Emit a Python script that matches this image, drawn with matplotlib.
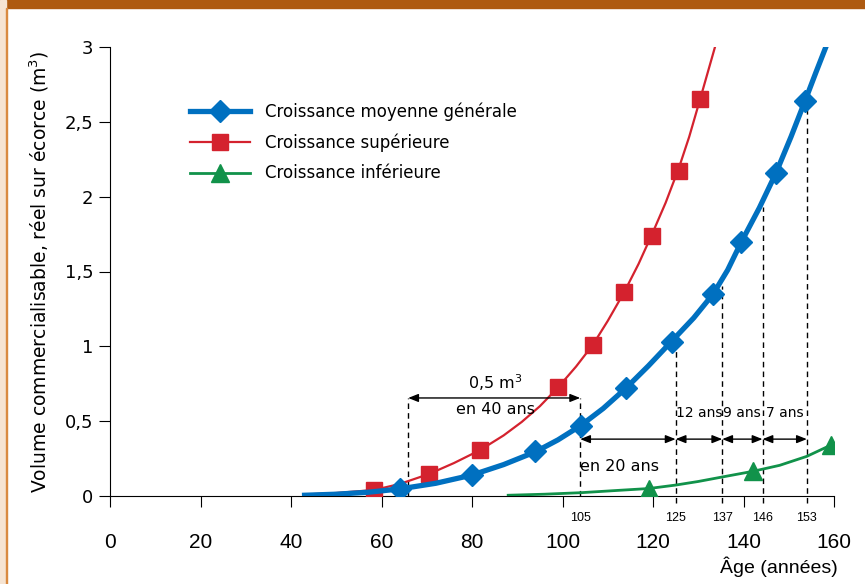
import matplotlib
matplotlib.use("Agg")
import matplotlib.pyplot as plt
from matplotlib.patches import Rectangle

# courbes (âge en années, volume en m3)
age_moy = [43, 50, 57, 64, 72, 80, 87, 94, 99, 104, 109, 114, 119, 124, 129,
           133.3, 136.5, 139.4, 143.5, 147.2, 150.5, 153.6, 156, 158.2]
vol_moy = [0.005, 0.012, 0.025, 0.047, 0.085, 0.14, 0.21, 0.295, 0.375, 0.47, 0.585,
           0.72, 0.87, 1.03, 1.19, 1.35, 1.51, 1.69, 1.925, 2.16, 2.40, 2.64, 2.83, 3.0]
mk_age_moy = [64, 80, 94, 104, 114, 124.2, 133.3, 139.4, 147.2, 153.6]
mk_vol_moy = [0.047, 0.14, 0.30, 0.47, 0.72, 1.03, 1.35, 1.70, 2.16, 2.64]

age_sup = [43, 50, 58.3, 64, 70.5, 76, 81.8, 87, 91, 95, 99, 103, 106.7, 110,
           113.6, 116.8, 119.8, 122.8, 125.7, 128, 130.4, 133.7]
vol_sup = [0.01, 0.02, 0.04, 0.08, 0.147, 0.22, 0.307, 0.405, 0.495, 0.60, 0.725,
           0.865, 1.01, 1.17, 1.36, 1.55, 1.75, 1.96, 2.19, 2.40, 2.65, 3.0]
mk_age_sup = [58.3, 70.5, 81.8, 99, 106.7, 113.6, 119.8, 125.7, 130.4]
mk_vol_sup = [0.04, 0.147, 0.307, 0.728, 1.01, 1.36, 1.74, 2.17, 2.65]

age_inf = [88, 96, 104, 112, 119.1, 125, 130, 135.3, 142.1, 148, 154, 159.3]
vol_inf = [0.005, 0.012, 0.022, 0.037, 0.05, 0.073, 0.097, 0.127, 0.165, 0.205, 0.265, 0.34]
mk_age_inf = [119.1, 142.1, 159.3]
mk_vol_inf = [0.05, 0.165, 0.34]

# repères pointillés
rep_x = [103.9, 125, 135.3, 144.2, 154]
rep_top = [0.655, 1.03, 1.40, 1.93, 2.60]
rep_lbl = ["105", "125", "137", "146", "153"]
ecarts = ["12 ans", "9 ans", "7 ans"]

bleu = "#0070c0"
rouge = "#d4222e"
vert = "#11924a"
etroit = ["Liberation Sans", "DejaVu Sans"]

fig = plt.figure(figsize=(8.65, 5.84), dpi=100)
ax = fig.add_axes([110 / 865, 88 / 584, 724 / 865, 449 / 584])

# cadre décoratif
fig.patches.append(Rectangle((0, 1 - 8 / 584), 1, 8 / 584, transform=fig.transFigure,
                             color="#ae5a10", zorder=0))
fig.patches.append(Rectangle((0, 0), 6 / 865, 1, transform=fig.transFigure,
                             color="#f6e4d2", zorder=0))
fig.patches.append(Rectangle((6 / 865, 0), 1.5 / 865, 1 - 8 / 584, transform=fig.transFigure,
                             color="#d98a40", zorder=0))

ax.plot(age_inf, vol_inf, color=vert, lw=2, zorder=3)
ax.plot(mk_age_inf, mk_vol_inf, "^", color=vert, ms=13, zorder=4)
ax.plot(age_sup, vol_sup, color=rouge, lw=1.6, zorder=3)
ax.plot(mk_age_sup, mk_vol_sup, "s", color=rouge, ms=11, zorder=4)
ax.plot(age_moy, vol_moy, color=bleu, lw=3.8, zorder=5)
ax.plot(mk_age_moy, mk_vol_moy, "D", color=bleu, ms=11, zorder=6)

# légende
h1, = ax.plot([], [], color=bleu, lw=3.8, marker="D", ms=11)
h2, = ax.plot([], [], color=rouge, lw=1.6, marker="s", ms=11)
h3, = ax.plot([], [], color=vert, lw=2, marker="^", ms=13)
ax.legend([h1, h2, h3],
          ["Croissance moyenne générale", "Croissance supérieure", "Croissance inférieure"],
          loc="upper left", bbox_to_anchor=(0.09, 0.91), frameon=False,
          handlelength=3.6, fontsize=12, labelspacing=0.75, handletextpad=0.9)

# pointillés
ax.plot([65.9, 65.9], [0, 0.655], color="black", ls=(0, (4, 3)), lw=1)
for i, (x, t) in enumerate(zip(rep_x, rep_top)):
    bas = 0 if i == 0 else -0.05
    ax.plot([x, x], [bas, t], color="black", ls=(0, (4, 3)), lw=1, clip_on=False, zorder=2)
    ax.text(x, -0.15, rep_lbl[i], ha="center", va="center", fontsize=9, family=etroit)

arrow = dict(arrowstyle="<|-|>,head_length=0.5,head_width=0.2", color="black", lw=1,
             mutation_scale=12, shrinkA=0, shrinkB=0)
ax.annotate("", xy=(65.9, 0.655), xytext=(103.9, 0.655), arrowprops=arrow)
ax.text(85.1, 0.755, "0,5 m$^3$", ha="center", va="center", fontsize=11.5)
ax.text(85.1, 0.575, "en 40 ans", ha="center", va="center", fontsize=11.5)
for a, b in zip(rep_x[:-1], rep_x[1:]):
    ax.annotate("", xy=(a, 0.38), xytext=(b, 0.38), arrowprops=arrow)
ax.text(112.7, 0.20, "en 20 ans", ha="center", va="center", fontsize=11.5)
for a, b, t in zip(rep_x[1:-1], rep_x[2:], ecarts):
    ax.text((a + b) / 2, 0.555, t, ha="center", va="center", fontsize=10)

ax.set_xlim(0, 160)
ax.set_ylim(0, 3)
ax.set_xticks(range(0, 161, 20))
ax.set_yticks([0, 0.5, 1, 1.5, 2, 2.5, 3])
ax.set_yticklabels(["0", "0,5", "1", "1,5", "2", "2,5", "3"], fontsize=13)
ax.set_xticklabels([str(v) for v in range(0, 161, 20)], fontsize=15, family=etroit)
ax.tick_params(axis="x", direction="out", length=8, pad=19)
ax.tick_params(axis="y", direction="out", length=8, pad=4)
for s in ["top", "right"]:
    ax.spines[s].set_visible(False)
ax.set_ylabel("Volume commercialisable, réel sur écorce (m$^3$)", fontsize=13.5, labelpad=10)
ax.text(1.005, -0.157, "Âge (années)", transform=ax.transAxes, ha="right", va="center",
        fontsize=14, family=etroit)

fig.savefig("out.png", dpi=100)
